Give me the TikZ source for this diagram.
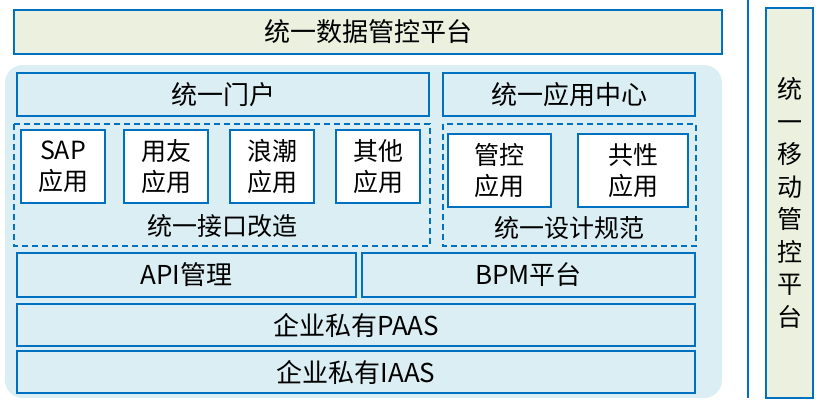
\documentclass[tikz,border=0pt]{standalone}
\usepackage{fontspec}
\setmainfont{Noto Sans CJK SC}
\definecolor{lineblue}{HTML}{0070C0}
\definecolor{beige}{HTML}{EBF0DF}
\definecolor{paleblue}{HTML}{DAEEF3}
\tikzset{
  box/.style={draw=lineblue,line width=1.5pt,fill=paleblue,font=\fontsize{26}{28}\selectfont},
  app/.style={box,fill=white,align=center,font=\fontsize{25}{31}\selectfont},
  group/.style={draw=lineblue,line width=1.3pt,dash pattern=on 6pt off 4pt}
}
\begin{document}
\begin{tikzpicture}[x=1pt,y=-1pt]
\useasboundingbox (0,0) rectangle (821,404);
% background panel
\fill[paleblue,rounded corners=18pt] (5,65) rectangle (722,398);
\draw[box,fill=beige] (14,10) rectangle (722,54) node[midway] (top) {统一数据管控平台};
\draw[lineblue,line width=2pt] (748,0) -- (748,398);
\draw[box,fill=beige] (766,8) rectangle (813,398)
  node[midway,align=center,font=\fontsize{25}{32.5}\selectfont] (mobile) {统\\一\\移\\动\\管\\控\\平\\台};
%
\draw[box] (17,73) rectangle (429,116) node[midway] (portal) {统一门户};
\draw[box] (443,73) rectangle (695,116) node[midway] (center) {统一应用中心};
%
\draw[group] (14,124) rectangle (430,246);
\node[font=\fontsize{25}{27}\selectfont] (iface) at (222,226) {统一接口改造};
\foreach \x/\t [count=\i] in {21/SAP,124/用友,230/浪潮,336/其他}
  \draw[app] (\x,130) rectangle ++(84,73) node[midway] (app\i) {\t\\应用};
\draw[group] (443,124) rectangle (696,246);
\node[font=\fontsize{25}{27}\selectfont] (design) at (569,228) {统一设计规范};
\draw[app] (448,134) rectangle (551,207) node[midway] (ctrl) {管控\\应用};
\draw[app] (578,134) rectangle (688,207) node[midway] (common) {共性\\应用};
%
\draw[box] (17,253) rectangle (356,297) node[midway] (api) {API管理};
\draw[box] (362,253) rectangle (695,297) node[midway] (bpm) {BPM平台};
\draw[box] (17,304) rectangle (695,346) node[midway] (paas) {企业私有PAAS};
\draw[box] (17,351) rectangle (695,393) node[midway] (iaas) {企业私有IAAS};
\end{tikzpicture}
\end{document}
